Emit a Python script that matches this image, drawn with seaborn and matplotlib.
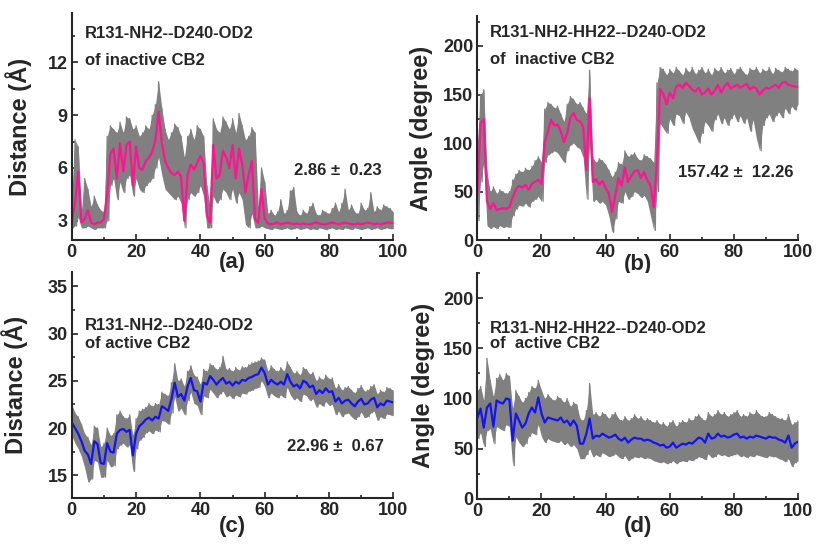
import numpy as np
import pandas as pd
import matplotlib
matplotlib.use("Agg")
import matplotlib.pyplot as plt
import seaborn as sns
from matplotlib.ticker import MultipleLocator

# time axis (ns)
time = list(range(0, 101))

# (a) distance, inactive CB2
a_smooth = [3.0, 4.0, 5.8, 2.9, 3.1, 3.6, 2.9, 2.8, 2.9, 2.9,
            3.1, 4.5, 6.8, 7.1, 5.4, 7.4, 5.8, 7.3, 7.5, 5.0,
            7.2, 6.0, 5.9, 6.4, 6.6, 6.9, 7.6, 9.2, 7.4, 6.4,
            6.0, 5.7, 5.6, 5.8, 5.5, 3.0, 5.6, 6.2, 5.9, 6.3,
            6.7, 6.3, 3.3, 2.9, 7.3, 5.4, 5.6, 7.0, 6.6, 6.0,
            7.3, 5.4, 7.1, 6.2, 4.6, 5.6, 6.4, 3.1, 2.9, 4.8,
            3.1, 2.85, 2.8, 2.85, 2.9, 2.8, 2.85, 2.9, 2.85, 2.8,
            2.85, 2.8, 2.85, 2.8, 2.8, 2.85, 2.9, 2.85, 2.8, 2.8,
            2.85, 2.9, 2.85, 2.8, 2.85, 2.9, 2.85, 2.8, 2.8, 2.85,
            2.8, 2.85, 2.9, 2.85, 2.8, 2.85, 2.8, 2.85, 2.9, 2.9,
            2.85]
a_hi = [4.5, 7.6, 7.2, 3.6, 5.4, 4.8, 3.8, 4.4, 3.9, 3.6,
        3.5, 7.8, 8.4, 8.2, 8.0, 8.6, 8.0, 8.9, 8.8, 8.2,
        8.4, 7.8, 8.0, 8.4, 8.2, 9.0, 9.6, 10.9, 9.4, 8.2,
        7.6, 8.0, 8.5, 8.3, 7.8, 6.6, 7.8, 8.2, 7.6, 8.4,
        8.2, 7.8, 5.0, 3.8, 8.8, 8.2, 8.0, 8.9, 8.6, 8.2,
        8.8, 8.0, 9.1, 8.4, 7.6, 7.8, 8.3, 8.0, 3.8, 6.0,
        5.2, 3.4, 3.6, 3.3, 3.5, 4.2, 3.4, 3.6, 4.7, 4.9,
        3.5, 3.3, 3.6, 3.4, 3.8, 4.0, 3.4, 3.3, 3.6, 3.5,
        3.4, 3.7, 4.0, 3.5, 4.0, 4.8, 3.6, 3.9, 3.5, 3.4,
        4.0, 3.6, 3.7, 4.6, 3.5, 3.8, 3.6, 3.9, 3.8, 3.7,
        3.5]
a_lo = [2.6, 2.7, 3.2, 2.6, 2.6, 2.7, 2.6, 2.5, 2.6, 2.6,
        2.6, 3.0, 5.0, 5.4, 4.2, 5.2, 4.6, 5.4, 5.6, 4.4,
        5.4, 4.8, 4.6, 5.0, 5.2, 5.4, 6.0, 6.6, 5.6, 4.8,
        4.6, 4.4, 4.2, 4.4, 4.0, 2.6, 4.2, 4.6, 4.4, 4.6,
        5.0, 4.4, 2.6, 2.6, 4.4, 4.0, 4.2, 4.8, 4.6, 4.2,
        4.8, 4.0, 4.6, 4.2, 2.8, 2.6, 3.4, 2.6, 2.6, 2.7,
        2.6, 2.55, 2.5, 2.6, 2.55, 2.5, 2.55, 2.6, 2.5, 2.55,
        2.6, 2.5, 2.55, 2.6, 2.5, 2.55, 2.5, 2.6, 2.55, 2.5,
        2.55, 2.6, 2.5, 2.55, 2.5, 2.6, 2.55, 2.5, 2.6, 2.55,
        2.5, 2.55, 2.6, 2.5, 2.55, 2.6, 2.5, 2.55, 2.6, 2.55,
        2.55]

# (b) angle, inactive CB2
b_smooth = [48, 120, 125, 40, 32, 38, 31, 32, 33, 32,
            34, 44, 52, 56, 54, 57, 52, 58, 60, 62,
            58, 100, 112, 124, 118, 119, 112, 101, 110, 126,
            131, 124, 122, 117, 72, 146, 60, 63, 57, 61,
            54, 48, 29, 46, 64, 56, 75, 60, 66, 71,
            72, 64, 70, 62, 56, 34, 82, 156, 150, 140,
            152, 146, 158, 160, 157, 162, 159, 155, 153, 157,
            150, 152, 156, 150, 154, 160, 152, 158, 162, 156,
            158, 160, 157, 159, 161, 155, 158, 156, 150, 154,
            157, 156, 158, 160, 157, 162, 163, 160, 159, 158,
            158]
b_hi = [100, 150, 155, 70, 50, 55, 48, 52, 50, 48,
        50, 62, 68, 72, 70, 74, 72, 76, 82, 86,
        80, 135, 142, 140, 136, 138, 130, 122, 140, 148,
        145, 140, 142, 136, 130, 175, 85, 80, 84, 82,
        78, 72, 65, 70, 80, 78, 92, 86, 88, 90,
        84, 82, 88, 86, 84, 80, 162, 178, 176, 170,
        176, 172, 178, 174, 170, 177, 173, 178, 171, 175,
        178, 172, 176, 170, 177, 174, 178, 172, 175, 177,
        171, 176, 178, 173, 170, 177, 175, 178, 172, 176,
        174, 178, 171, 177, 175, 173, 178, 176, 174, 177,
        175]
b_lo = [20, 60, 80, 15, 12, 14, 12, 15, 13, 14,
        13, 25, 32, 36, 35, 38, 34, 40, 42, 45,
        40, 80, 88, 90, 92, 90, 85, 80, 92, 98,
        100, 96, 94, 85, 42, 100, 40, 42, 38, 40,
        36, 25, 8, 22, 40, 38, 50, 42, 45, 50,
        48, 44, 46, 40, 25, 10, 50, 120, 115, 110,
        125, 118, 130, 128, 120, 132, 126, 115, 108, 100,
        110, 122, 118, 112, 124, 130, 120, 126, 118, 125,
        130, 122, 128, 120, 126, 112, 124, 105, 92, 118,
        126, 130, 122, 128, 132, 126, 136, 130, 138, 134,
        140]

# (c) distance, active CB2
c_smooth = [20.6, 20.0, 19.4, 18.6, 17.6, 17.2, 16.2, 18.6, 18.3, 16.3,
            16.2, 18.4, 17.5, 17.4, 19.4, 19.8, 19.9, 19.6, 19.8, 17.1,
            19.4, 20.2, 20.5, 20.9, 21.1, 20.8, 21.2, 21.0, 22.3, 22.1,
            21.8, 23.1, 24.8, 23.3, 23.6, 22.9, 24.4, 25.3, 24.0, 23.9,
            22.8, 24.8, 24.6, 25.5, 25.1, 24.6, 25.0, 25.3, 24.7, 24.9,
            24.5, 24.9, 24.7, 25.1, 25.0, 25.3, 25.4, 25.6, 25.7, 26.4,
            25.8, 24.6, 25.1, 24.8, 24.6, 24.9, 24.6, 25.7, 24.9, 24.4,
            24.6, 24.2, 25.0, 24.8, 24.3, 24.5, 23.6, 24.0, 23.7, 24.2,
            23.8, 23.9, 22.8, 23.2, 22.6, 22.9, 23.0, 22.6, 22.3, 22.8,
            23.1, 22.5, 22.6, 23.0, 23.2, 22.2, 22.6, 22.4, 22.9, 22.8,
            22.7]
c_hi = [22.5, 21.6, 21.2, 20.4, 19.4, 19.0, 18.2, 20.2, 20.0, 18.0,
        18.4, 20.0, 19.2, 19.4, 21.4, 21.8, 21.2, 21.0, 21.4, 19.2,
        21.0, 21.8, 22.0, 22.2, 22.6, 22.3, 22.6, 22.5, 23.8, 23.6,
        23.4, 24.8, 26.8, 25.0, 25.2, 24.4, 26.0, 26.6, 25.6, 25.4,
        24.6, 26.2, 26.0, 26.8, 26.6, 26.2, 26.4, 27.6, 26.2, 26.3,
        26.0, 26.4, 26.1, 26.5, 26.4, 26.7, 26.9, 27.0, 27.1, 27.4,
        27.2, 26.0, 26.6, 26.2, 26.0, 26.4, 26.0, 27.0, 26.4, 25.8,
        26.0, 25.6, 26.4, 26.2, 25.7, 25.9, 25.0, 25.4, 25.1, 25.6,
        25.2, 25.3, 24.2, 24.6, 24.0, 24.3, 24.4, 24.0, 23.7, 24.2,
        24.5, 23.9, 24.0, 24.4, 24.6, 23.6, 24.0, 23.8, 24.3, 24.2,
        24.0]
c_lo = [19.2, 18.4, 17.8, 17.0, 15.8, 14.3, 14.6, 16.6, 16.4, 14.8,
        14.8, 16.6, 15.9, 16.0, 17.8, 18.2, 18.4, 18.0, 18.2, 15.4,
        17.8, 18.7, 19.0, 19.5, 19.7, 19.4, 19.8, 19.6, 20.8, 20.7,
        20.4, 21.6, 23.3, 21.8, 22.1, 21.4, 22.9, 23.8, 22.6, 22.4,
        21.4, 23.4, 23.2, 24.1, 23.7, 23.2, 23.6, 23.9, 23.3, 23.5,
        23.1, 23.5, 23.3, 23.7, 23.6, 23.9, 24.0, 24.2, 24.3, 25.0,
        24.4, 23.2, 23.7, 23.4, 23.2, 23.5, 23.2, 24.3, 23.5, 23.0,
        23.2, 22.8, 23.6, 23.4, 22.9, 23.1, 22.2, 22.6, 22.3, 22.8,
        22.4, 22.5, 21.4, 21.8, 21.2, 21.5, 21.6, 21.2, 20.9, 21.2,
        21.7, 21.1, 21.2, 21.6, 21.8, 20.8, 21.2, 21.0, 21.5, 21.4,
        21.3]

# (d) angle, active CB2
d_smooth = [81, 90, 71, 91, 95, 72, 98, 96, 95, 100,
            99, 58, 85, 78, 71, 75, 85, 91, 86, 101,
            85, 76, 81, 80, 79, 78, 81, 76, 78, 73,
            78, 73, 55, 55, 65, 80, 60, 63, 62, 65,
            63, 61, 62, 64, 60, 58, 61, 56, 59, 61,
            60, 60, 58, 59, 58, 56, 55, 53, 54, 51,
            52, 56, 51, 53, 55, 54, 56, 55, 58, 61,
            60, 56, 65, 60, 61, 65, 62, 63, 61, 62,
            64, 65, 61, 62, 60, 62, 61, 63, 62, 61,
            60, 62, 61, 61, 59, 58, 56, 63, 51, 55,
            57]
d_hi = [108, 112, 98, 140, 118, 102, 120, 124, 118, 125,
        122, 90, 108, 102, 96, 100, 106, 112, 110, 118,
        108, 100, 104, 100, 98, 102, 100, 96, 100, 92,
        96, 94, 80, 78, 88, 115, 84, 86, 82, 86,
        84, 80, 84, 86, 80, 78, 82, 78, 80, 84,
        80, 82, 78, 80, 78, 76, 78, 74, 76, 72,
        76, 78, 72, 76, 78, 76, 80, 78, 82, 84,
        80, 78, 86, 82, 84, 88, 84, 86, 82, 84,
        86, 88, 82, 84, 82, 86, 84, 88, 84, 82,
        82, 86, 84, 82, 80, 80, 78, 84, 74, 76,
        78]
d_lo = [60, 66, 52, 68, 70, 55, 72, 70, 68, 74,
        72, 33, 62, 56, 52, 55, 62, 66, 64, 74,
        62, 56, 60, 58, 57, 56, 58, 54, 56, 52,
        54, 50, 40, 40, 44, 50, 42, 44, 42, 46,
        44, 42, 43, 45, 42, 40, 43, 38, 40, 42,
        41, 42, 40, 41, 40, 38, 37, 36, 37, 35,
        36, 38, 35, 37, 38, 37, 39, 38, 40, 42,
        41, 39, 45, 41, 42, 45, 43, 44, 42, 43,
        44, 45, 42, 43, 41, 43, 42, 44, 43, 42,
        41, 43, 42, 42, 40, 39, 37, 40, 32, 36,
        38]

sns.set_style("ticks")
plt.rcParams['font.family'] = ['Liberation Sans', 'DejaVu Sans']
plt.rcParams['font.weight'] = 'bold'

GRAY = "#808080"
PINK = "#ff1493"
BLUE = "#1414f0"


def raw_trace(hi, lo):
    gx, gy = [], []
    for t, h, l in zip(time, hi, lo):
        gx += [t, t + 0.5]
        gy += [h, l]
    return pd.DataFrame({'t': gx, 'v': gy})


def panel(rect, smooth, hi, lo, color, ylim, ymaj, ylabel, lab_x,
          line1, line2, y1, y2, stat, sx, sy, tag, tag_y):
    ax = fig.add_axes(rect)
    # raw trajectory: filled envelope plus the jagged frame-to-frame trace
    ax.fill_between(time, lo, hi, color=GRAY, lw=0)
    raw = raw_trace(hi, lo)
    sns.lineplot(data=raw, x='t', y='v', ax=ax, color=GRAY, lw=0.9,
                 sort=False, estimator=None)
    sm = pd.DataFrame({'t': time, 'v': smooth})
    sns.lineplot(data=sm, x='t', y='v', ax=ax, color=color, lw=1.6,
                 estimator=None)
    ax.set_xlim(0, 100)
    ax.set_ylim(*ylim)
    ax.xaxis.set_major_locator(MultipleLocator(20))
    ax.xaxis.set_minor_locator(MultipleLocator(10))
    ax.yaxis.set_major_locator(MultipleLocator(ymaj))
    ax.yaxis.set_minor_locator(MultipleLocator(ymaj / 2))
    ax.tick_params(which='both', direction='in', width=1.2, labelsize=13, pad=3)
    ax.tick_params(which='major', length=4)
    ax.tick_params(which='minor', length=2.5)
    for s in ['top', 'right']:
        ax.spines[s].set_visible(False)
    for s in ['left', 'bottom']:
        ax.spines[s].set_linewidth(1.5)
    ax.set_xlabel('')
    ax.set_ylabel(ylabel, fontsize=17, fontweight='bold')
    ax.yaxis.set_label_coords(lab_x, 0.5)
    ax.text(0.04, y1, line1, transform=ax.transAxes, fontsize=12,
            fontweight='bold', va='center')
    ax.text(0.04, y2, line2, transform=ax.transAxes, fontsize=12,
            fontweight='bold', va='center')
    ax.text(sx, sy, stat, transform=ax.transAxes, fontsize=12,
            fontweight='bold', va='center', ha='center')
    ax.text(0.5, tag_y, tag, transform=ax.transAxes, fontsize=16,
            fontweight='bold', va='center', ha='center')
    return ax


fig = plt.figure(figsize=(8.16, 5.47), dpi=100)

panel([0.088, 0.561, 0.394, 0.415], a_smooth, a_hi, a_lo, PINK,
      (1.9, 14.8), 3, 'Distance (Å)', -0.125,
      'R131-NH2--D240-OD2', 'of inactive CB2', 0.912, 0.793,
      '2.86 ±  0.23', 0.826, 0.308, '(a)', -0.10)
panel([0.585, 0.561, 0.393, 0.410], b_smooth, b_hi, b_lo, PINK,
      (0, 231), 50, 'Angle (degree)', -0.137,
      'R131-NH2-HH22--D240-OD2', 'of  inactive CB2', 0.924, 0.804,
      '157.42 ±  12.26', 0.807, 0.30, '(b)', -0.11)
panel([0.088, 0.0896, 0.394, 0.413], c_smooth, c_hi, c_lo, BLUE,
      (12.6, 36.5), 5, 'Distance (Å)', -0.137,
      'R131-NH2--D240-OD2', 'of active CB2', 0.765, 0.686,
      '22.96 ±  0.67', 0.82, 0.226, '(c)', -0.125)
panel([0.585, 0.088, 0.393, 0.413], d_smooth, d_hi, d_lo, BLUE,
      (0, 225), 50, 'Angle (degree)', -0.131,
      'R131-NH2-HH22--D240-OD2', 'of  active CB2', 0.752, 0.686,
      '', 0.8, 0.3, '(d)', -0.122)

fig.savefig('out.png', dpi=100)
